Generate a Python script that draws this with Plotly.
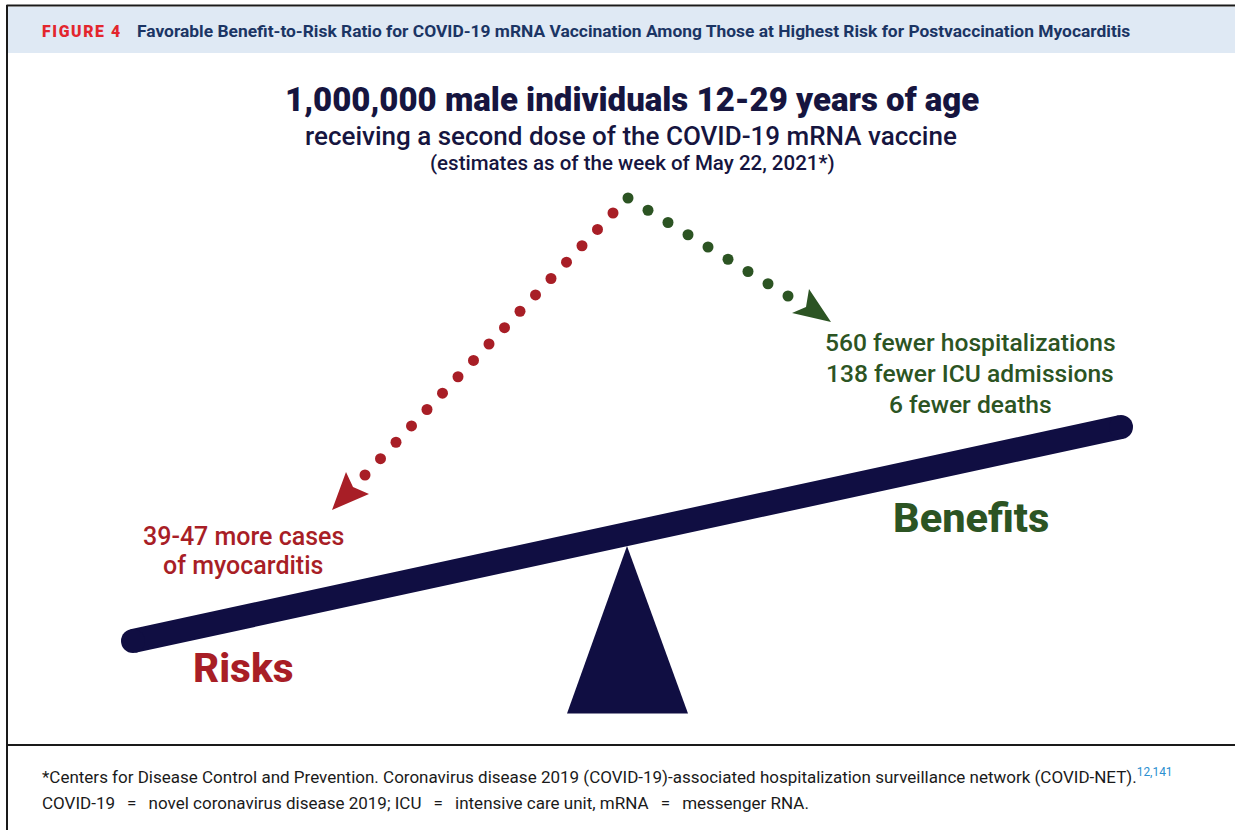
import numpy as np
import plotly.graph_objects as go

# ---------------- data ----------------
population = "1,000,000"
age_group = "12-29"
estimate_date = "May 22, 2021"
myocarditis_range = ["39", "47"]
benefit_values = [560, 138, 6]
benefit_labels = ["fewer hospitalizations", "fewer ICU admissions", "fewer deaths"]
side_labels = ["Risks", "Benefits"]
references = ["12", "141"]
abbreviations = [("COVID-19", "novel coronavirus disease 2019;"),
                 ("ICU", "intensive care unit,"),
                 ("mRNA", "messenger RNA.")]

# ---------------- styles ----------------
W, H = 1235, 830
NAVY = "#100e42"
TITLE_NAVY = "#16153f"
RED = "#a81e26"
GREEN = "#2c5423"
HEADER_BG = "#dfe9f4"
HEADER_RED = "#e3262d"
HEADER_NAVY = "#1b3564"
FONT = "Roboto"

fig = go.Figure()
shapes = []
ann = []

def text(x, y, t, size, color, weight=400, xanchor="center", family=FONT):
    ann.append(dict(x=x, y=y, xref="x", yref="y", text=t, showarrow=False,
                    xanchor=xanchor, yanchor="middle",
                    font=dict(family=family, size=size, color=color, weight=weight)))

# ---- frame and header ----
shapes.append(dict(type="rect", x0=8, x1=W + 5, y0=7, y1=53, fillcolor=HEADER_BG,
                   line=dict(width=0), layer="below"))
shapes.append(dict(type="line", x0=6.5, x1=W + 5, y0=5.5, y1=5.5, line=dict(color="#1a1a1a", width=2)))
shapes.append(dict(type="line", x0=7, x1=7, y0=5, y1=H + 5, line=dict(color="#1a1a1a", width=2)))
shapes.append(dict(type="line", x0=7, x1=W + 5, y0=745, y1=745, line=dict(color="#1a1a1a", width=2)))

text(40, 31, "\u200a".join("FIGURE") + "\u2009 4", 15.8, HEADER_RED, 900, "left")
text(135, 31, "Favorable Benefit-to-Risk Ratio for COVID-19 mRNA Vaccination Among Those at "
     "Highest Risk for Postvaccination Myocarditis", 17.4, HEADER_NAVY, 700, "left")

# ---- main titles ----
text(632, 99, f"{population} male individuals {age_group} years of age", 33, TITLE_NAVY, 900)
text(631, 136, "receiving a second dose of the COVID-19 mRNA vaccine", 26, TITLE_NAVY, 500)
text(632, 163, f"(estimates as of the week of {estimate_date}*)", 20.5, TITLE_NAVY, 500)

# ---- dotted arrows ----
apex = (628, 198)
red_end, red_tip = (365, 475), (332, 510)
green_end, green_tip = (788, 296), (831, 322)

rx = np.linspace(613, red_end[0], 17)
ry = np.linspace(213, red_end[1], 17)
gx = np.linspace(apex[0], green_end[0], 9)
gy = np.linspace(apex[1], green_end[1], 9)
fig.add_trace(go.Scatter(x=rx, y=ry, mode="markers", hoverinfo="skip",
                         marker=dict(size=11, color=RED, line=dict(width=0))))
fig.add_trace(go.Scatter(x=gx, y=gy, mode="markers", hoverinfo="skip",
                         marker=dict(size=11, color=GREEN, line=dict(width=0))))

def head(tip, w1, notch, w2, color):
    p = f"M {tip[0]},{tip[1]} L {w1[0]},{w1[1]} L {notch[0]},{notch[1]} L {w2[0]},{w2[1]} Z"
    shapes.append(dict(type="path", path=p, fillcolor=color, line=dict(width=0)))

head(red_tip, (346, 472), (353, 487), (369, 494), RED)
head(green_tip, (809, 289), (806, 307), (792, 313), GREEN)

# ---- seesaw ----
beam_x = [133, 1121]
beam_y = [641, 427]
fig.add_trace(go.Scatter(x=beam_x, y=beam_y, mode="lines+markers", hoverinfo="skip",
                         line=dict(color=NAVY, width=24),
                         marker=dict(size=24, color=NAVY, line=dict(width=0))))
shapes.append(dict(type="path", path="M 627,546 L 567,713.5 L 688,713.5 Z",
                   fillcolor=NAVY, line=dict(width=0)))

# ---- labels ----
for i, (v, lab) in enumerate(zip(benefit_values, benefit_labels)):
    text(970, 342 + 31 * i, f"{v} {lab}", 24.6, GREEN, 500)
text(243, 536, f"{myocarditis_range[0]}-{myocarditis_range[1]} more cases", 25, RED, 500)
text(243, 565, "of myocarditis", 25, RED, 500)
text(243, 668, side_labels[0], 40.5, RED, 800)
text(971, 517, side_labels[1], 41.5, GREEN, 800)

# ---- footnotes ----
sup = ",".join(references)
text(40, 776, "*Centers for Disease Control and Prevention. Coronavirus disease 2019 (COVID-19)-associated "
     "hospitalization surveillance network (COVID-NET)."
     f"<sup><span style='color:#2b8fd0'>{sup}</span></sup>", 17, "#1a1a1a", 400, "left")
eq = "\u2002\u2009=\u2009\u2002"
text(40, 803, " ".join(f"{a}{eq}{b}" for a, b in abbreviations), 17, "#1a1a1a", 400, "left")

fig.update_layout(
    width=W, height=H, margin=dict(l=0, r=0, t=0, b=0),
    paper_bgcolor="white", plot_bgcolor="white", showlegend=False,
    xaxis=dict(range=[0, W], visible=False, fixedrange=True),
    yaxis=dict(range=[H, 0], visible=False, fixedrange=True),
    shapes=shapes, annotations=ann,
)
fig.write_html("out.html", config={"displayModeBar": False},
               post_script="document.body.style.margin='0';")
